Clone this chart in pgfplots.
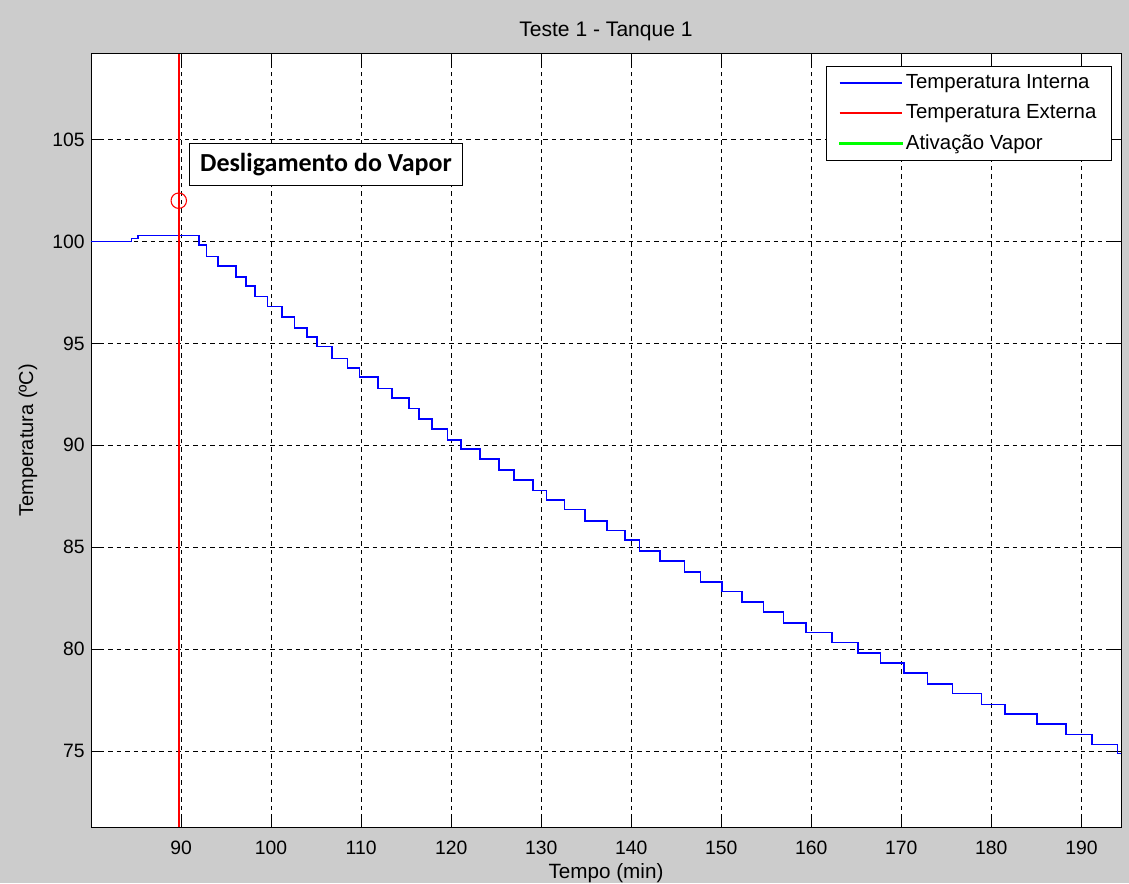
\documentclass[border=0pt]{standalone}
\usepackage{pgfplots}
\pgfplotsset{compat=1.18}
\usepackage{fontspec}
\setmainfont{Liberation Sans}
\newfontfamily\carlito{Carlito}
\definecolor{figbg}{RGB}{204,204,204}
\definecolor{mred}{RGB}{255,0,0}
\definecolor{mblue}{RGB}{0,0,255}
\definecolor{mgreen}{RGB}{0,255,0}
\begin{document}
\begin{tikzpicture}
\useasboundingbox (0,0) rectangle (846.75pt,662.25pt);
\fill[figbg] (0,0) rectangle (846.75pt,662.25pt);
\begin{axis}[
  at={(68.25pt,41.8pt)}, anchor=south west,
  scale only axis, width=772.5pt, height=580pt,
  xmin=80, xmax=194.4, ymin=71.26, ymax=109.2,
  xtick={90,100,...,190}, ytick={75,80,...,105},
  tick align=inside, major tick length=7.5pt,
  xtick pos=both, ytick pos=both,
  grid=major,
  major grid style={black, line width=0.75pt, dash pattern=on 3.4pt off 3pt},
  axis line style={black, line width=0.75pt},
  every tick/.style={black, line width=0.75pt},
  axis background/.style={fill=white},
  tick label style={font=\fontsize{14.5}{17}\selectfont},
  yticklabel style={inner sep=0pt, xshift=-4.5pt},
  xticklabel style={inner sep=0pt, yshift=-10pt},
  /pgf/number format/assume math mode=true,
  legend style={at={(1,1)}, anchor=north east, xshift=-6.75pt, yshift=-9pt,
    draw=black, fill=white,
    font=\fontsize{15.3}{18}\selectfont, inner xsep=9.5pt, inner ysep=4.5pt,
    row sep=6.5pt},
  legend cell align=left,
  legend image code/.code={\draw[#1] (0pt,0pt) -- (47pt,0pt);},
]
\addplot[mred, only marks, mark=o, mark size=5.8pt, mark options={line width=0.8pt}, forget plot] coordinates {(89.75,102.0)};
\addplot[mblue, line width=1.2pt, const plot] coordinates {
(80,100.0) (84.5,100.15) (85.2,100.3)
(92.0,99.84) (92.85,99.27) (94.1,98.8) (96.1,98.25) (97.2,97.8)
(98.2,97.3) (99.6,96.8) (101.2,96.3) (102.6,95.75) (104.0,95.3)
(105.1,94.85) (106.8,94.26) (108.5,93.8) (109.8,93.35) (111.9,92.78)
(113.4,92.32) (115.3,91.81) (116.4,91.3) (117.9,90.81) (119.6,90.27)
(121.1,89.81) (123.2,89.33) (125.3,88.8) (127.0,88.31) (129.1,87.79)
(130.6,87.33) (132.6,86.84) (134.9,86.3) (137.3,85.81) (139.3,85.34)
(140.9,84.8) (143.2,84.31) (145.9,83.77) (147.7,83.3) (150.1,82.83)
(152.3,82.31) (154.7,81.82) (156.9,81.28) (159.4,80.81) (162.3,80.33)
(165.2,79.8) (167.7,79.32) (170.3,78.83) (172.9,78.29) (175.7,77.83)
(178.9,77.29) (181.5,76.82) (185.1,76.34) (188.3,75.82) (191.2,75.33)
(194.0,74.88) (194.4,74.88)
};
\addlegendentry{Temperatura Interna}
\addplot[mred, line width=1.3pt] coordinates {(89.75,71.26) (89.75,109.2)};
\addlegendentry{Temperatura Externa}
\addlegendimage{legend image code/.code={\fill[mgreen] (0pt,-0.65pt) rectangle (47pt,0.65pt);}}
\addlegendentry{Ativação Vapor}
\node[draw=black, line width=0.75pt, fill=white, minimum width=204.5pt, minimum height=32pt,
  font=\carlito\bfseries\fontsize{19.5}{22}\selectfont] at (axis cs:106.1,103.78) {Desligamento do Vapor};
\end{axis}
\node[anchor=base, font=\fontsize{15.8}{18}\selectfont] at (454.5pt,634.5pt) {Teste 1 - Tanque 1};
\node[anchor=base, font=\fontsize{15.5}{18}\selectfont] at (454.5pt,3.5pt) {Tempo (min)};
\node[rotate=90, font=\fontsize{15}{18}\selectfont] at (21pt,332pt) {Temperatura (ºC)};
\end{tikzpicture}
\end{document}
